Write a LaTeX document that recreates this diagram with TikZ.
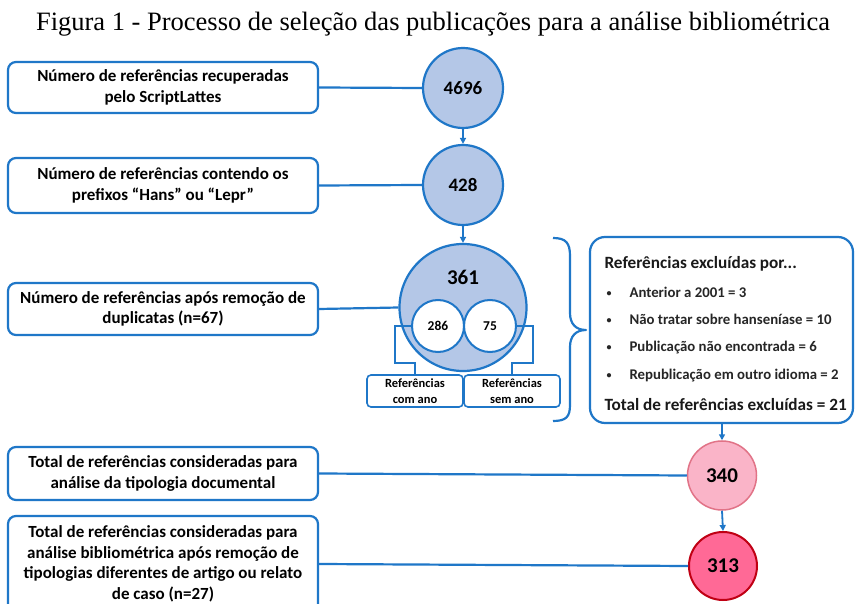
\documentclass[tikz,border=0pt]{standalone}
\usepackage{fontspec}
\setmainfont{Carlito}
\newfontfamily\titlefont{Liberation Serif}
\usetikzlibrary{arrows.meta}
\definecolor{blu}{RGB}{31,119,200}
\definecolor{cfill}{RGB}{180,199,231}
\definecolor{pinkA}{RGB}{250,180,200}
\definecolor{pinkAb}{RGB}{225,115,135}
\definecolor{pinkB}{RGB}{255,105,150}
\definecolor{pinkBb}{RGB}{192,0,20}
\begin{document}
\begin{tikzpicture}[x=1pt,y=-1pt,
  lbox/.style={draw=blu, line width=2.2pt, rounded corners=8pt, fill=white,
    minimum width=310pt, align=center, inner sep=0pt,
    font=\bfseries\fontsize{17}{20.5}\selectfont},
  bcirc/.style={circle, draw=blu, line width=2.2pt, fill=cfill, inner sep=0pt,
    font=\bfseries\fontsize{19}{22}\selectfont},
  icirc/.style={circle, draw=blu, line width=2pt, fill=white, inner sep=0pt,
    minimum size=52pt, font=\bfseries\fontsize{13.5}{15}\selectfont},
  sbox/.style={draw=blu, line width=1.6pt, rounded corners=4pt, fill=white,
    minimum width=96pt, minimum height=32pt, align=center, inner sep=0pt,
    font=\bfseries\fontsize{12.5}{15.5}\selectfont},
  conn/.style={draw=blu, line width=2.2pt},
  arr/.style={draw=blu, line width=1.8pt, -{Triangle[length=6pt,width=6pt]}},
  etxt/.style={anchor=base west, font=\bfseries\fontsize{14.8}{17}\selectfont, text=black!85},
  ebul/.style={anchor=base west, font=\bfseries\fontsize{10}{12}\selectfont, text=black!85},
  ehead/.style={anchor=base west, font=\bfseries\fontsize{17.2}{20}\selectfont, text=black!90}
]
\useasboundingbox (0,0) rectangle (855,604);
\fill[white] (0,0) rectangle (855,604);

\node[anchor=base, font=\titlefont\fontsize{26.5}{30}\selectfont] (title) at (433,31)
  {Figura 1 - Processo de seleção das publicações para a análise bibliométrica};

% left boxes
\node[lbox, minimum height=51pt] (b1) at (163,87.5) {Número de referências recuperadas\\pelo ScriptLattes};
\node[lbox, minimum height=55pt] (b2) at (163,185.5) {Número de referências contendo os\\prefixos “Hans” ou “Lepr”};
\node[lbox, minimum height=52pt] (b3) at (163,309) {Número de referências após remoção de\\duplicatas (n=67)};
\node[lbox, minimum height=53pt] (b5) at (163,473.5) {Total de referências consideradas para\\análise da tipologia documental};
\node[lbox, minimum height=96pt] (b6) at (163,564) {Total de referências consideradas para\\análise bibliométrica após remoção de\\tipologias diferentes de artigo ou relato\\de caso (n=27)};

% circles
\node[bcirc, minimum size=80pt] (c1) at (463,88) {4696};
\node[bcirc, minimum size=80pt] (c2) at (463,185) {428};
\node[bcirc, minimum size=127pt] (c3) at (463,307.5) {};
\node[font=\bfseries\fontsize{21}{24}\selectfont] (t361) at (463,277) {361};
\node[icirc] (c286) at (438,326) {286};
\node[icirc] (c75) at (490,326) {75};

\node[sbox] (bcom) at (415,391) {Referências\\com ano};
\node[sbox] (bsem) at (512,391) {Referências\\sem ano};

\draw[draw=blu, line width=1.8pt] (c286.west) -| (395,363) -| (bcom.north);
\draw[draw=blu, line width=1.8pt] (c75.east) -| (533,363) -| (bsem.north);

% brace
\draw[draw=blu, line width=2.2pt, line join=round]
  (553,238) .. controls (566,238) and (570,243) .. (570,256) -- (570,313)
  .. controls (570,324) and (576,330) .. (586,330)
  .. controls (576,330) and (570,336) .. (570,347) -- (570,405)
  .. controls (570,417) and (566,421) .. (553,421);

% exclusion box
\node[draw=blu, line width=2.2pt, rounded corners=15pt, minimum width=263pt,
  minimum height=186pt, inner sep=0pt] (excl) at (721.5,330) {};
\node[ehead] (eh) at (601,269) {Referências excluídas por...};
\node[ebul] (u1) at (603,297) {•};
\node[etxt] (e1) at (626,298) {Anterior a 2001 = 3};
\node[ebul] (u2) at (603,324) {•};
\node[etxt] (e2) at (626,325) {Não tratar sobre hanseníase = 10};
\node[ebul] (u3) at (603,351) {•};
\node[etxt] (e3) at (626,352) {Publicação não encontrada = 6};
\node[ebul] (u4) at (603,378) {•};
\node[etxt] (e4) at (626,379) {Republicação em outro idioma = 2};
\node[ehead] (et) at (601,410) {Total de referências excluídas = 21};

\node[circle, draw=pinkAb, line width=1.5pt, fill=pinkA, minimum size=69pt, inner sep=0pt,
  font=\bfseries\fontsize{21}{24}\selectfont] (c340) at (722,475.5) {340};
\node[circle, draw=pinkBb, line width=2pt, fill=pinkB, minimum size=68pt, inner sep=0pt,
  font=\bfseries\fontsize{21}{24}\selectfont] (c313) at (723,566) {313};

% connectors
\draw[conn] (b1.east) -- (c1.west);
\draw[conn] (b2.east) -- (c2.west);
\draw[conn] (b3.east) -- (c3.west);
\draw[conn] (b5.east) -- (c340.west);
\draw[conn] (b6.east) -- (c313.west);

\draw[arr] (c1.south) -- (c2.north);
\draw[arr] (c2.south) -- (c3.north);
\draw[arr] (excl.south -| c340.north) -- (c340.north);
\draw[arr] (c340.south) -- (c313.north);
\end{tikzpicture}
\end{document}
